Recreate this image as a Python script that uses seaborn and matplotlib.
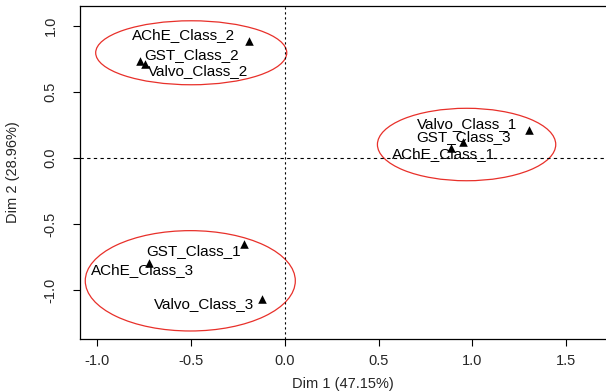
import matplotlib
matplotlib.use("Agg")
import matplotlib.pyplot as plt
from matplotlib.patches import Ellipse
import seaborn as sns
import pandas as pd

# ---- data ----
labels = ["AChE_Class_2", "GST_Class_2", "Valvo_Class_2",
          "Valvo_Class_1", "GST_Class_3", "AChE_Class_1",
          "GST_Class_1", "AChE_Class_3", "Valvo_Class_3"]
dim1 = [-0.19, -0.77, -0.743, 1.30, 0.952, 0.884, -0.215, -0.725, -0.121]
dim2 = [0.885, 0.734, 0.709, 0.212, 0.119, 0.073, -0.653, -0.797, -1.064]

ell_cx = [-0.498, 0.969, -0.503]
ell_cy = [0.796, 0.102, -0.929]
ell_w = [1.018, 0.950, 1.119]
ell_h = [0.484, 0.548, 0.759]

xticks = [-1.0, -0.5, 0.0, 0.5, 1.0, 1.5]
yticks = [-1.0, -0.5, 0.0, 0.5, 1.0]
xlabel = "Dim 1 (47.15%)"
ylabel = "Dim 2 (28.96%)"

# ---- layout (label offsets in pixels: dx, dy with y up) ----
label_offsets = [(-66, 6), (51, 6), (53, -7),
                 (-62, 6), (0, 5), (-7, -6),
                 (-51, -7), (-6, -7), (-58, -5)]

sns.set_style("white")
plt.rcParams['font.family'] = ['Liberation Sans', 'DejaVu Sans']

df = pd.DataFrame({"dim1": dim1, "dim2": dim2, "label": labels})

fig = plt.figure(figsize=(6.06, 3.92), dpi=100)
ax = fig.add_axes([80/606, 1-339/392, 1-80/606, (339-6)/392])

sns.scatterplot(data=df, x="dim1", y="dim2", marker="^", color="black",
                s=38, edgecolor="black", linewidth=0, ax=ax, zorder=3)

for lab, x, y, (dx, dy) in zip(labels, dim1, dim2, label_offsets):
    ax.annotate(lab, (x, y), xytext=(dx, dy), textcoords="offset pixels",
                ha="center", va="center", fontsize=11, color="black")

for cx, cy, w, h in zip(ell_cx, ell_cy, ell_w, ell_h):
    ax.add_patch(Ellipse((cx, cy), w, h, fill=False, edgecolor="#e8302a",
                         linewidth=0.9))

ax.axhline(0, color="black", linestyle=(0, (3, 3)), linewidth=0.8)
ax.axvline(0, color="black", linestyle=(0, (2, 2.5)), linewidth=0.8)

ax.set_xlim((80-284.7)/187.7, (606-284.7)/187.7)
ax.set_ylim(-(339-158)/132.2, (158-6)/132.2)
ax.set_xticks(xticks)
ax.set_yticks(yticks)
ax.set_xticklabels([f"{t:.1f}" for t in xticks], fontsize=10.5)
ax.set_yticklabels([f"{t:.1f}" for t in yticks], fontsize=10.5, rotation=90,
                   va="center")
ax.tick_params(direction="out", length=5, width=0.8, color="black",
               bottom=True, left=True)
ax.tick_params(axis="x", pad=6)
ax.tick_params(axis="y", pad=11)
ax.set_xlabel(xlabel, fontsize=10.5, labelpad=6)
ax.set_ylabel(ylabel, fontsize=10.5, labelpad=17)
for side in ["left", "bottom", "top"]:
    ax.spines[side].set_color("black")
    ax.spines[side].set_linewidth(0.9)
ax.spines["right"].set_visible(False)

fig.savefig("out.png", dpi=100)
